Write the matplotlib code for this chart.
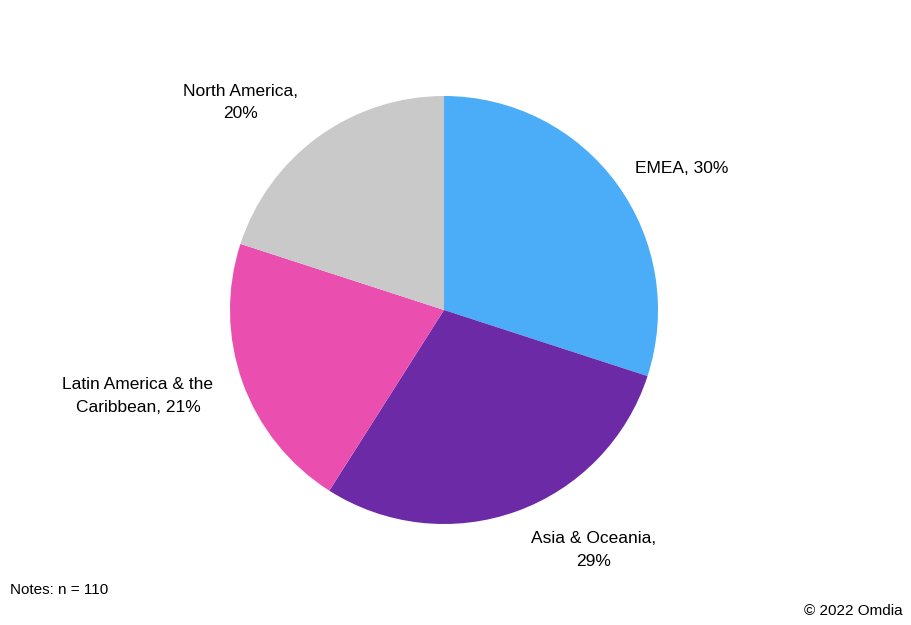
import matplotlib.pyplot as plt

regions = ['EMEA', 'Asia & Oceania', 'Latin America & the\nCaribbean', 'North America']
shares = [30, 29, 21, 20]
colors = ['#4BACF7', '#6C2AA6', '#EA4FB0', '#C9C9C9']
# label spots (axes units, pie radius = 1)
label_pos = [(1.11, 0.66), (0.70, -1.12), (-1.43, -0.40), (-0.95, 0.97)]

plt.rcParams['font.family'] = ['Liberation Sans', 'DejaVu Sans']

fig = plt.figure(figsize=(9.11, 6.25), dpi=100)
ax = fig.add_axes([230 / 911, 101 / 625, 428 / 911, 428 / 625])

ax.pie(shares, colors=colors, startangle=90, counterclock=False, radius=1,
       wedgeprops=dict(linewidth=0))
ax.set_xlim(-1, 1)
ax.set_ylim(-1, 1)
ax.set_aspect('equal')
ax.axis('off')

for name, val, (x, y) in zip(regions, shares, label_pos):
    if name in ('North America', 'Asia & Oceania'):
        txt = f'{name},\n{val}%'
    else:
        txt = f'{name}, {val}%'
    ax.text(x, y, txt, ha='center', va='center', fontsize=12.5, color='black',
            linespacing=1.65)

fig.text(10 / 911, 1 - 590 / 625, 'Notes: n = 110', fontsize=11, va='center', ha='left')
fig.text(903 / 911, 1 - 611 / 625, '© 2022 Omdia', fontsize=11, va='center', ha='right')

fig.savefig('out.png', dpi=100)
